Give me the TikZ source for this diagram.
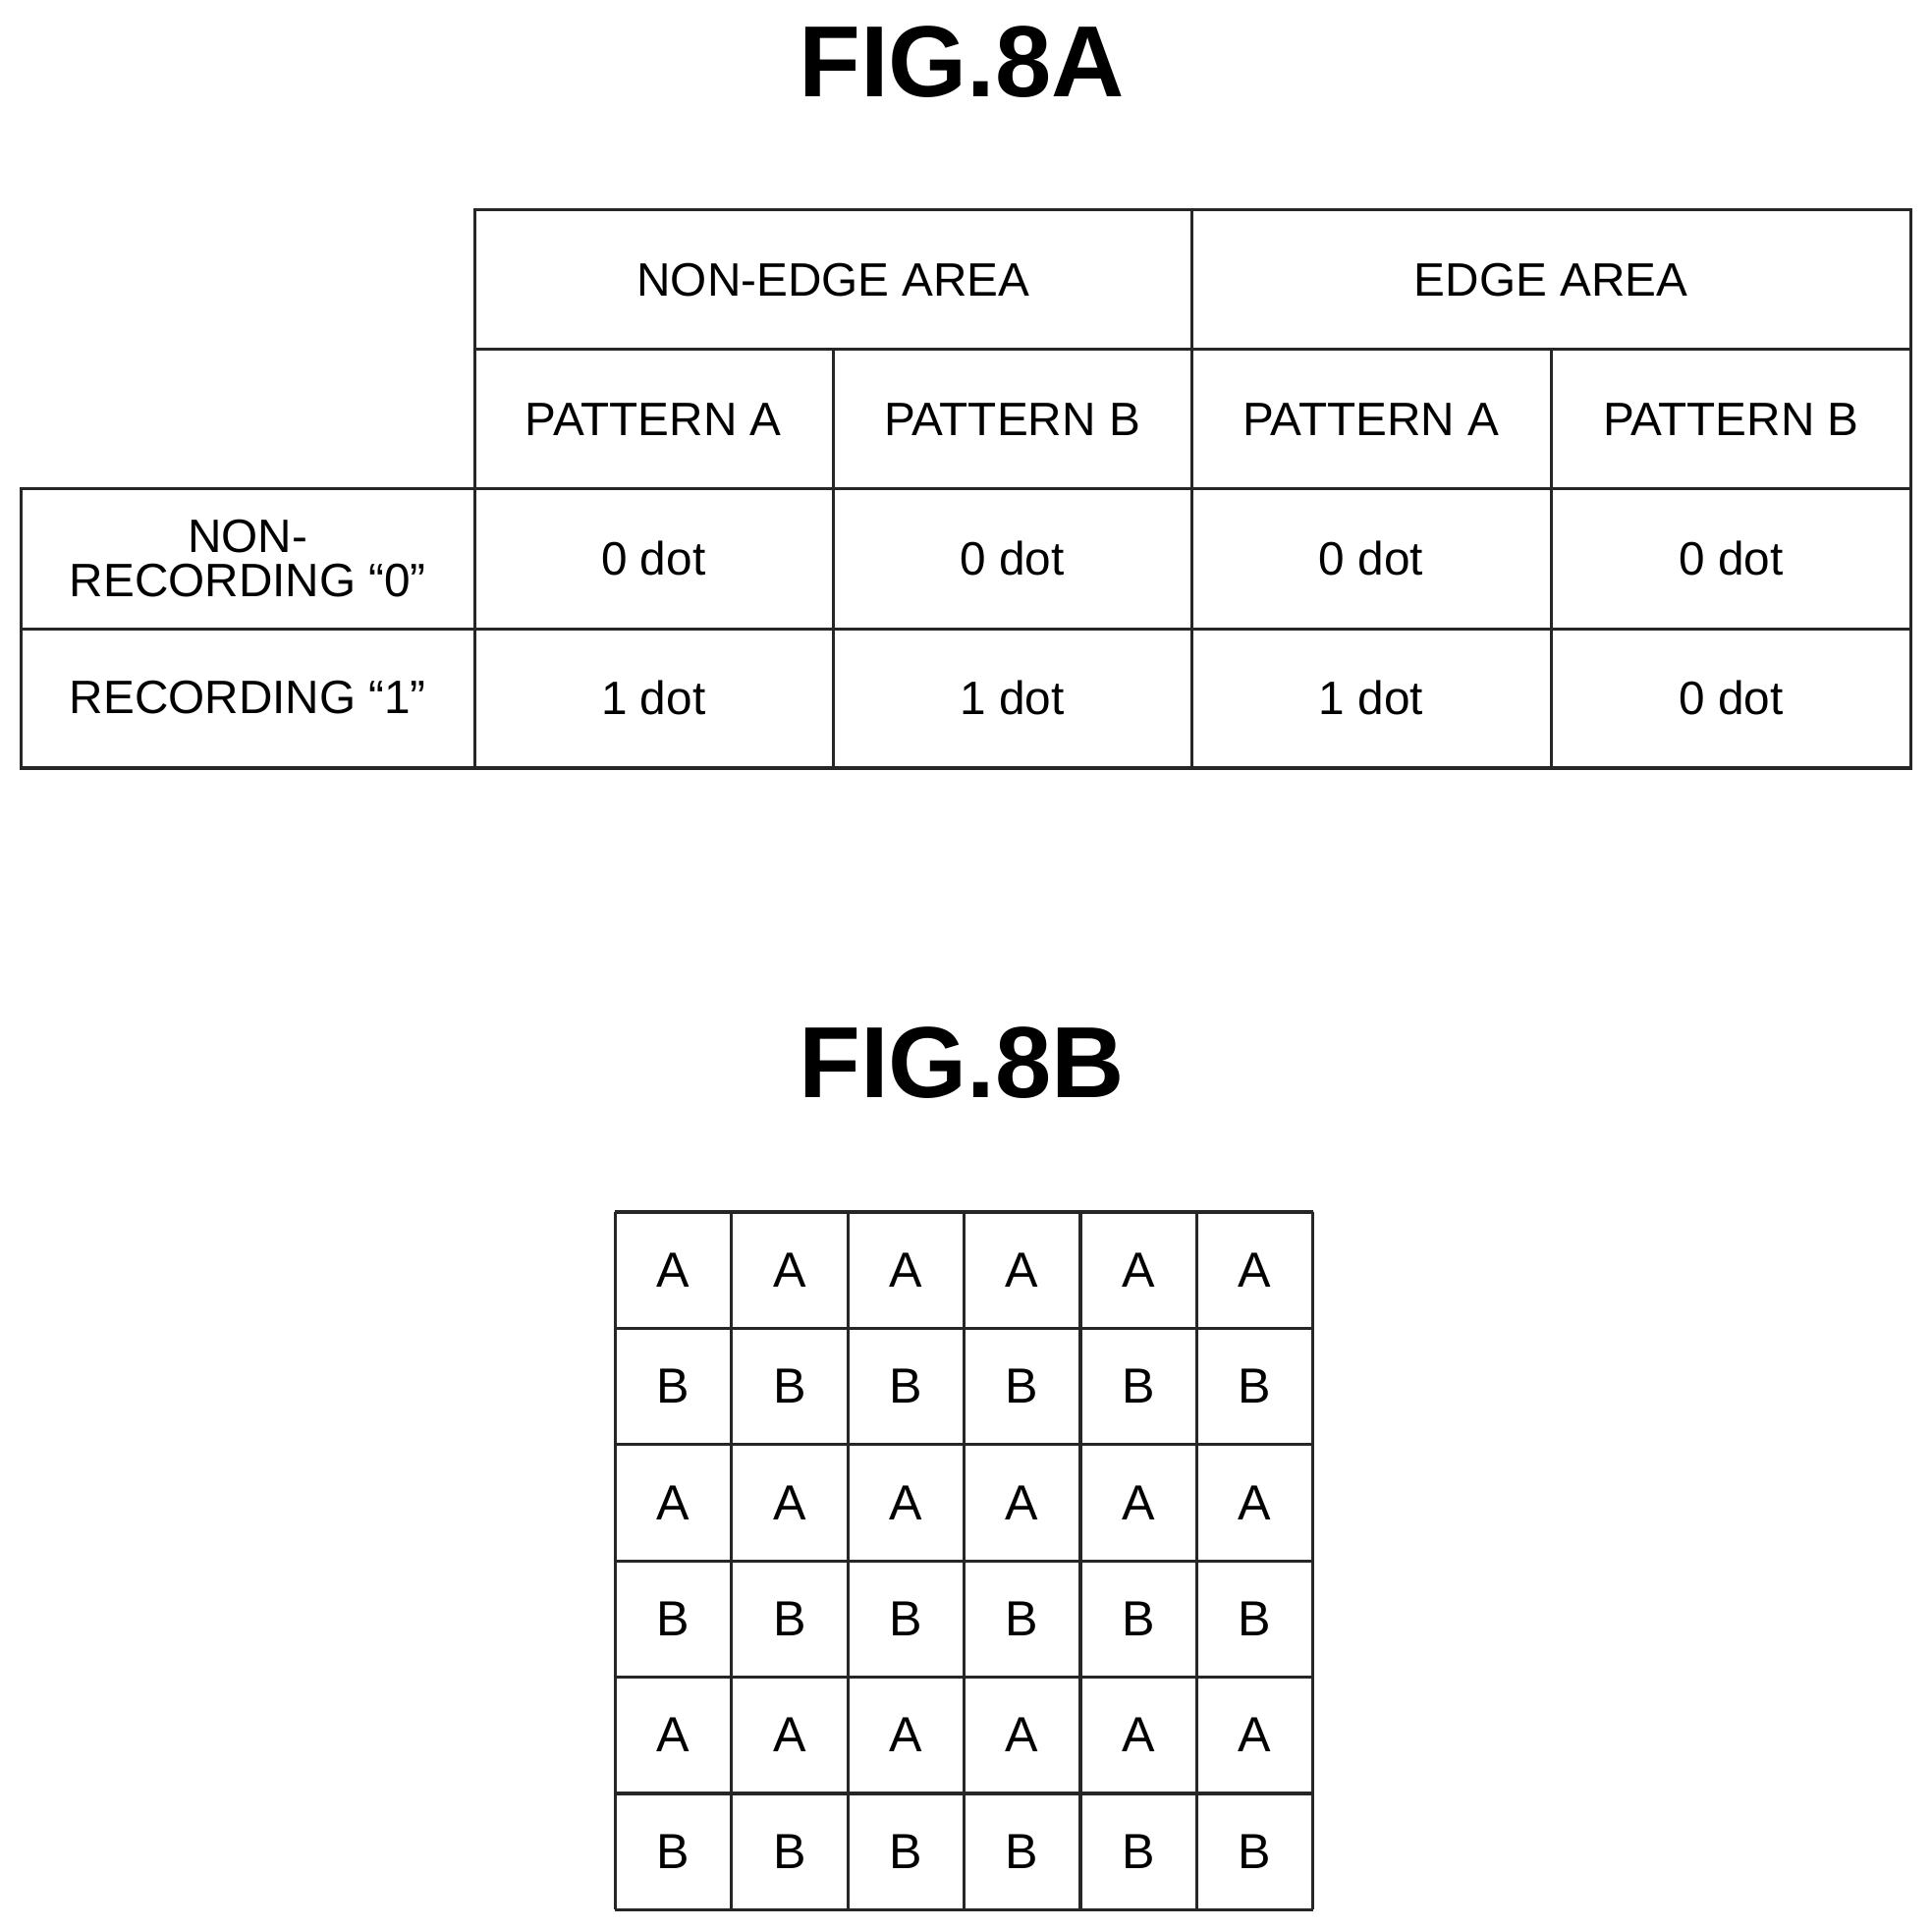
\documentclass[tikz,border=0pt]{standalone}
\usepackage{fontspec}
\setmainfont{Liberation Sans}
\begin{document}
\begin{tikzpicture}[x=1pt,y=-1pt,
  ln/.style={line width=2.5pt,black!85},
  tx/.style={font=\fontsize{38}{36}\selectfont,align=center,inner sep=0},
  ttl/.style={font=\fontsize{82}{82}\selectfont\bfseries,inner sep=0},
  gl/.style={font=\fontsize{40}{40}\selectfont,inner sep=0}]
\useasboundingbox (0,0) rectangle (1567,1565);
\node[ttl] (t8a) at (780,50) {FIG.8A};
\node[ttl] (t8b) at (780,862) {FIG.8B};
% table
\draw[ln] (385,170) rectangle (1550,623);
\draw[ln] (17,396) rectangle (385,623);
\draw[ln] (385,283) -- (1550,283);
\draw[ln] (17,510) -- (1550,510);
\draw[ln] (385,396) -- (1550,396);
\draw[ln] (967,170) -- (967,623);
\draw[ln] (676,283) -- (676,623);
\draw[ln] (1258,283) -- (1258,623);
\node[tx] (h1) at (676,227) {NON-EDGE AREA};
\node[tx] (h2) at (1258,227) {EDGE AREA};
\foreach \x/\t [count=\i] in {530/PATTERN A,821/PATTERN B,1112/PATTERN A,1404/PATTERN B}
  \node[tx] (p\i) at (\x,340) {\t};
\node[tx] (r0) at (201,453) {NON-\\RECORDING “0”};
\node[tx] (r1) at (201,566) {RECORDING “1”};
\foreach \x/\t [count=\i] in {530/0,821/0,1112/0,1404/0}
  \node[tx] (a\i) at (\x,453) {\t{} dot};
\foreach \x/\t [count=\i] in {530/1,821/1,1112/1,1404/0}
  \node[tx] (b\i) at (\x,566) {\t{} dot};
% grid
\foreach \i in {0,...,6} {
  \draw[ln] (499+94.33*\i,983) -- (499+94.33*\i,1549);
  \draw[ln] (499,983+94.33*\i) -- (1065,983+94.33*\i);
}
\foreach \r in {0,...,5} \foreach \c in {0,...,5} {
  \node[gl] (g\r\c) at (546+94.33*\c,1030+94.33*\r) {\ifodd\r B\else A\fi};
}
\end{tikzpicture}
\end{document}
